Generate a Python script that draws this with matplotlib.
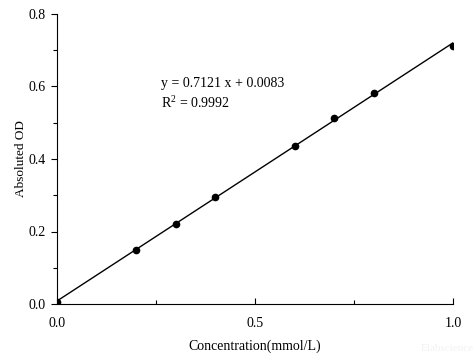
import matplotlib
matplotlib.use("Agg")
import numpy as np
import matplotlib.pyplot as plt
from matplotlib.ticker import MultipleLocator

# standard curve data
conc = [0.0, 0.2, 0.3, 0.4, 0.6, 0.7, 0.8, 1.0]
od = [0.005, 0.149, 0.221, 0.295, 0.436, 0.513, 0.582, 0.711]

# fit reported on the chart
slope = 0.7121
intercept = 0.0083
r2 = 0.9992

plt.rcParams["font.family"] = ["Liberation Serif", "DejaVu Serif"]
plt.rcParams["font.size"] = 10
plt.rcParams["mathtext.fontset"] = "custom"
plt.rcParams["mathtext.rm"] = "Liberation Serif"

fig = plt.figure(figsize=(4.76, 3.57), dpi=100)
ax = fig.add_axes([57 / 476, 1 - 304 / 357, 396 / 476, 290 / 357])

ax.plot(conc, od, "o", color="black", markersize=4.5, clip_on=True)
fx = np.array([0.0, 1.0])
ax.plot(fx, slope * fx + intercept, color="black", linewidth=1.0)

ax.set_xlim(0, 1.0)
ax.set_ylim(0, 0.8)
ax.xaxis.set_major_locator(MultipleLocator(0.5))
ax.xaxis.set_minor_locator(MultipleLocator(0.25))
ax.yaxis.set_major_locator(MultipleLocator(0.2))
ax.yaxis.set_minor_locator(MultipleLocator(0.1))
ax.tick_params(axis="x", which="both", direction="in", pad=9.5)
ax.tick_params(axis="y", which="both", direction="out", pad=4)
ax.tick_params(which="major", length=4, width=0.8)
ax.tick_params(which="minor", length=3, width=0.8)
ax.spines["top"].set_visible(False)
ax.spines["right"].set_visible(False)
ax.set_xticklabels([], minor=True)

ax.set_xlabel("Concentration(mmol/L)", fontsize=10, labelpad=6.5)
ax.set_ylabel("Absoluted OD", fontsize=9.5, labelpad=1)

ax.text(0.263, 0.607, f"y = {slope} x + {intercept}", fontsize=10, va="center")
ax.text(0.263, 0.556, f"R$^\\mathrm{{2}}$ = {r2}", fontsize=10, va="center")

fig.text(0.995, 0.01, "Elabscience", color="#f2f2f2", fontsize=8, ha="right", va="bottom")

fig.savefig("out.png", dpi=100)
